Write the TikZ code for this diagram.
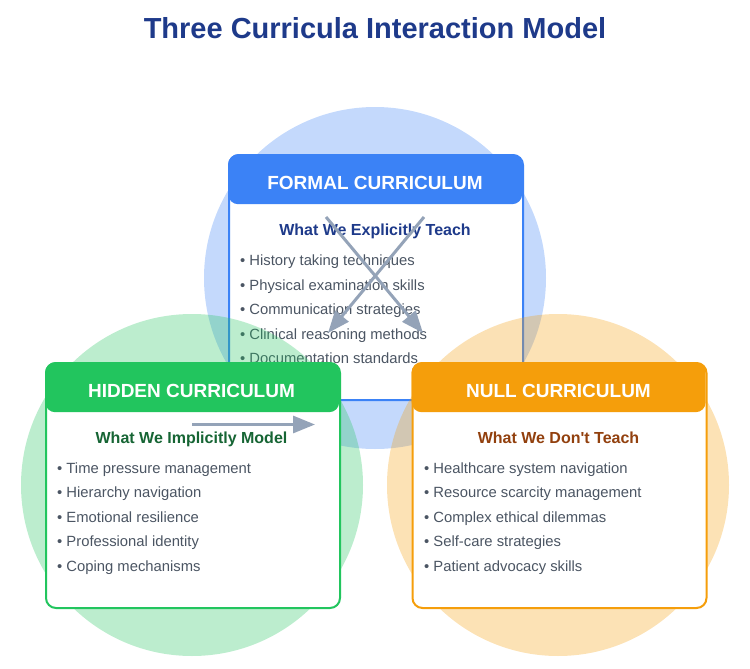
\documentclass[tikz,border=0pt]{standalone}
\usepackage{fontspec}
\setmainfont{Liberation Sans}
\usetikzlibrary{arrows.meta}
\definecolor{fblue}{HTML}{3B82F6}
\definecolor{fgreen}{HTML}{22C55E}
\definecolor{forange}{HTML}{F59E0B}
\definecolor{titleblue}{HTML}{1E3A8A}
\definecolor{subgreen}{HTML}{166534}
\definecolor{subbrown}{HTML}{92400E}
\definecolor{itemgray}{HTML}{4B5563}
\definecolor{arrowgray}{HTML}{94A3B8}
\newcommand{\straightq}{\XeTeXglyph\XeTeXcharglyph"0027\relax}
\tikzset{
  halo/.style={fill=#1, fill opacity=0.3, draw=none},
  cbox/.style={draw=#1, line width=2pt, fill=white, rounded corners=10pt,
    minimum width=294pt, minimum height=245pt, anchor=north west, inner sep=0pt},
  chead/.style={fill=#1, draw=none, rounded corners=10pt,
    minimum width=294pt, minimum height=50pt, anchor=north west, inner sep=0pt},
  headtxt/.style={text=white, font=\fontsize{19}{22}\selectfont\bfseries, anchor=base, inner sep=0pt},
  subtxt/.style={text=#1, font=\fontsize{16}{19}\selectfont\bfseries, anchor=base, inner sep=0pt},
  itemtxt/.style={text=itemgray, font=\fontsize{14.8}{18}\selectfont, anchor=base west, inner sep=0pt},
  flow/.style={draw=arrowgray, line width=3pt, -{Triangle[length=22pt,width=17pt]}},
}
\begin{document}
\begin{tikzpicture}[x=1pt,y=-1pt]
\useasboundingbox (0,0) rectangle (750,669);
\node[text=titleblue, font=\fontsize{29}{34}\selectfont\bfseries, anchor=base, inner sep=0pt] (title) at (375,39) {Three Curricula Interaction Model};

% formal circle and box
\fill[halo=fblue] (375,278) circle[radius=171pt];
\node[cbox=fblue] (formal) at (228,154) {};
\node[chead=fblue] (formalhead) at (228,154) {};
\node[headtxt] (formalt) at (375,189.5) {FORMAL CURRICULUM};
\node[subtxt=titleblue] (formals) at (375,235) {What We Explicitly Teach};
\node[itemtxt] (f1) at (240,265.5) {• History taking techniques};
\node[itemtxt] (f2) at (240,290) {• Physical examination skills};
\node[itemtxt] (f3) at (240,314.5) {• Communication strategies};
\node[itemtxt] (f4) at (240,339) {• Clinical reasoning methods};
\node[itemtxt] (f5) at (240,363) {• Documentation standards};

% other circles
\fill[halo=fgreen] (192,485) circle[radius=171pt];
\fill[halo=forange] (558,485) circle[radius=171pt];

% hidden box
\node[cbox=fgreen] (hidden) at (45,362) {};
\node[chead=fgreen] (hiddenhead) at (45,362) {};
\node[headtxt] (hiddent) at (191.5,397.5) {HIDDEN CURRICULUM};
\node[subtxt=subgreen] (hiddens) at (191.5,443.3) {What We Implicitly Model};
\node[itemtxt] (h1) at (57,473.3) {• Time pressure management};
\node[itemtxt] (h2) at (57,497.8) {• Hierarchy navigation};
\node[itemtxt] (h3) at (57,522.3) {• Emotional resilience};
\node[itemtxt] (h4) at (57,546.8) {• Professional identity};
\node[itemtxt] (h5) at (57,571.3) {• Coping mechanisms};

% null box
\node[cbox=forange] (null) at (411.5,362) {};
\node[chead=forange] (nullhead) at (411.5,362) {};
\node[headtxt] (nullt) at (558.5,397.5) {NULL CURRICULUM};
\node[subtxt=subbrown] (nulls) at (558.5,443.3) {What We Don\straightq t Teach};
\node[itemtxt] (n1) at (424,473.3) {• Healthcare system navigation};
\node[itemtxt] (n2) at (424,497.8) {• Resource scarcity management};
\node[itemtxt] (n3) at (424,522.3) {• Complex ethical dilemmas};
\node[itemtxt] (n4) at (424,546.8) {• Self-care strategies};
\node[itemtxt] (n5) at (424,571.3) {• Patient advocacy skills};

% arrows
\coordinate (a1s) at (326,217);
\coordinate (a1e) at (423,333);
\coordinate (a2s) at (424,217);
\coordinate (a2e) at (328,333);
\coordinate (a3s) at (192,424.5);
\coordinate (a3e) at (315,424.5);
\draw[flow] (a1s) -- (a1e);
\draw[flow] (a2s) -- (a2e);
\draw[flow] (a3s) -- (a3e);
\end{tikzpicture}
\end{document}
